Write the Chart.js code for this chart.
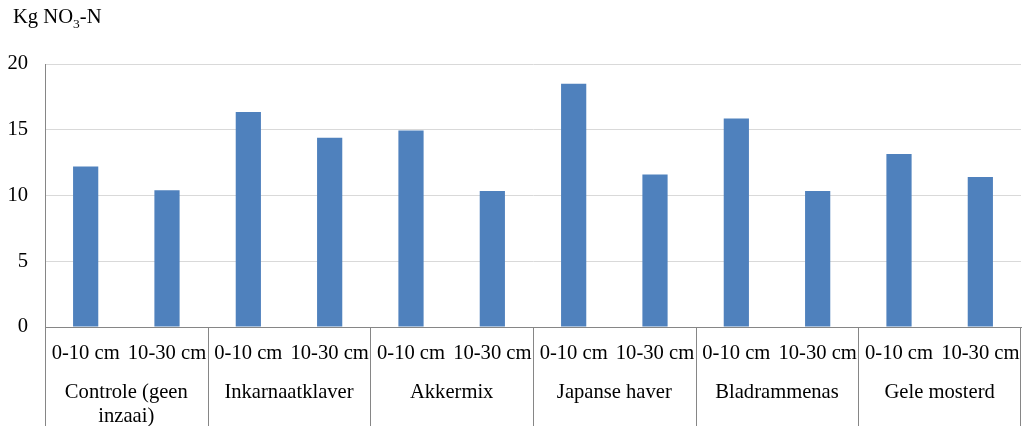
<!DOCTYPE html>
<html><head><meta charset="utf-8">
<script src="https://cdn.jsdelivr.net/npm/chart.js@4/dist/chart.umd.min.js"></script>
<style>html,body{margin:0;padding:0;background:#fff}#wrap{width:1022px;height:426px;position:relative}</style>
</head><body><div id="wrap"><canvas id="c"></canvas></div>
<script>
const groups = [["Controle (geen", "inzaai)"], "Inkarnaatklaver", "Akkermix", "Japanse haver", "Bladrammenas", "Gele mosterd"];
const depths = ["0-10 cm", "10-30 cm"];
const values = [12.2, 10.4, 16.35, 14.4, 14.95, 10.35, 18.5, 11.6, 15.85, 10.35, 13.15, 11.4];
const yTickValues = [0, 5, 10, 15, 20];
const unitMain = "Kg NO";
const unitSub = "3";
const unitTail = "-N";

const subLabels = [];
groups.forEach(() => depths.forEach(d => subLabels.push(d)));

const FONT = '"Liberation Serif", "Times New Roman", serif';
const FS = 20.6;
const AXIS = '#868686';

const deco = {
  id: 'deco',
  afterDraw(chart) {
    const ctx = chart.ctx;
    const x = chart.scales.x;
    ctx.save();
    ctx.fillStyle = '#000';
    ctx.textBaseline = 'alphabetic';
    ctx.font = FS + "px " + FONT;
    let px = 13;
    ctx.fillText(unitMain, px, 23);
    px += ctx.measureText(unitMain).width;
    ctx.font = "13.5px " + FONT;
    ctx.fillText(unitSub, px, 28);
    px += ctx.measureText(unitSub).width;
    ctx.font = FS + "px " + FONT;
    ctx.fillText(unitTail, px, 23);
    ctx.strokeStyle = AXIS;
    ctx.lineWidth = 1;
    const xs = [x.left];
    for (let i = depths.length; i < subLabels.length; i += depths.length) {
      xs.push((x.getPixelForValue(i - 1) + x.getPixelForValue(i)) / 2);
    }
    xs.push(x.right);
    const top = chart.chartArea.bottom;
    const bottom = chart.height;
    xs.forEach((v, i) => {
      const xx = Math.round(v) + (i === xs.length - 1 ? -0.5 : 0.5);
      ctx.beginPath();
      ctx.moveTo(xx, top);
      ctx.lineTo(xx, bottom);
      ctx.stroke();
    });
    ctx.restore();
  }
};

const fitX = h => s => { s.height = h; s.paddingLeft = 0; s.paddingRight = 0; };

new Chart(document.getElementById('c'), {
  type: 'bar',
  data: {
    labels: subLabels,
    datasets: [{
      data: values,
      backgroundColor: '#4f81bd',
      borderWidth: 0,
      barPercentage: 0.31,
      categoryPercentage: 1
    }]
  },
  options: {
    responsive: true,
    maintainAspectRatio: false,
    devicePixelRatio: 1,
    animation: false,
    layout: { padding: { top: 64, right: 1, left: 0, bottom: 0 } },
    plugins: { legend: { display: false }, tooltip: { enabled: false }, title: { display: false } },
    scales: {
      x: {
        type: 'category',
        offset: true,
        grid: { display: false, drawTicks: false },
        border: { display: true, color: AXIS, width: 1 },
        ticks: {
          autoSkip: false, maxRotation: 0, minRotation: 0,
          color: '#000', font: { family: FONT, size: FS }, padding: 14
        },
        afterFit: fitX(40)
      },
      x2: {
        type: 'category',
        position: 'bottom',
        labels: groups,
        offset: true,
        grid: { display: false, drawTicks: false },
        border: { display: false },
        ticks: {
          autoSkip: false, maxRotation: 0, minRotation: 0,
          color: '#000', font: { family: FONT, size: FS, lineHeight: 1.2 }, padding: 13
        },
        afterFit: fitX(59)
      },
      y: {
        min: 0, max: 20,
        afterBuildTicks: s => { s.ticks = yTickValues.map(v => ({ value: v })); },
        grid: {
          drawTicks: false,
          color: c => (c.tick && c.tick.value === 0) ? 'rgba(0,0,0,0)' : '#d9d9d9',
          lineWidth: 1
        },
        border: { display: true, color: AXIS, width: 1 },
        ticks: { color: '#000', font: { family: FONT, size: FS }, padding: 17 },
        afterFit: s => { s.width = 45; }
      }
    }
  },
  plugins: [deco]
});
</script>
</body></html>
